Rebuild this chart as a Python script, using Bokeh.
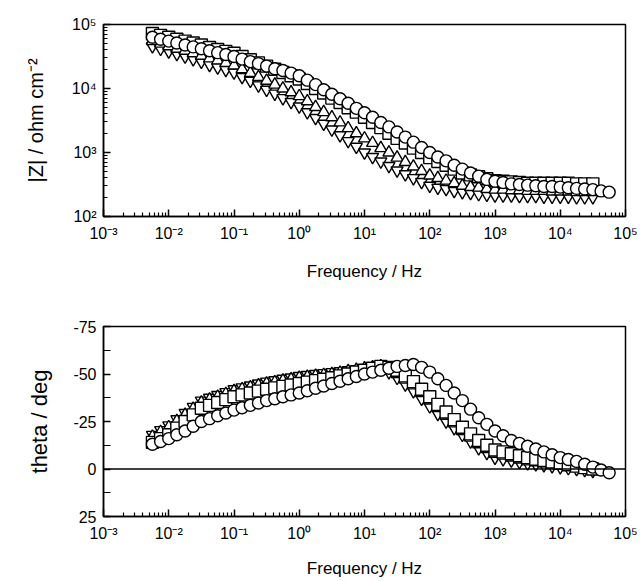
from bokeh.plotting import figure
from bokeh.layouts import column
from bokeh.models import Range1d, FixedTicker, Span
from bokeh.embed import file_html
from bokeh.resources import INLINE

# Frequency (Hz)
freq = [0.00562, 0.0075, 0.01, 0.0133, 0.0178, 0.0237, 0.0316, 0.0422, 0.0562, 0.075,
        0.1, 0.133, 0.178, 0.237, 0.316, 0.422, 0.562, 0.75,
        1, 1.33, 1.78, 2.37, 3.16, 4.22, 5.62, 7.5,
        10, 13.3, 17.8, 23.7, 31.6, 42.2, 56.2, 75,
        100, 133, 178, 237, 316, 422, 562, 750,
        1000, 1330, 1780, 2370, 3160, 4220, 5620, 7500,
        10000, 13300, 17800, 23700, 31600, 42200, 56200]

# |Z| (ohm cm^2)
z_circle = [63100, 58900, 55000, 51300, 47900, 44700, 41700, 38900, 36300, 33900,
            31600, 28800, 26300, 24500, 22400, 20400, 19100, 17400,
            15800, 13500, 11500, 9550, 8130, 6920, 5890, 4900,
            4170, 3550, 2950, 2510, 2090, 1740, 1450, 1200,
            1000, 851, 741, 631, 550, 479, 427, 380,
            355, 339, 324, 316, 309, 302, 295, 295,
            288, 282, 275, 269, 263, 251, 240]
z_square = [72400, 67600, 63100, 58900, 55000, 51300, 47900, 43700, 40700, 38000,
            35500, 31600, 28200, 25100, 22400, 20000, 17800, 15800,
            14100, 12000, 10000, 8510, 7080, 6030, 5010, 4270,
            3550, 2950, 2450, 2000, 1660, 1410, 1170, 1000,
            832, 724, 631, 550, 479, 447, 417, 389,
            363, 355, 347, 339, 331, 331, 331, 331,
            331, 331, 324, 324, 324]
z_tri_up = [55000, 50100, 45700, 41700, 38900, 35500, 32400, 29500, 27500, 25100,
            22900, 20000, 17400, 15100, 13200, 11500, 10000, 8710,
            7590, 6310, 5130, 4270, 3550, 2950, 2400, 2000,
            1660, 1410, 1170, 1000, 832, 708, 603, 513,
            437, 398, 363, 331, 302, 288, 282, 269,
            263, 263, 257, 257, 251, 251, 251, 245,
            245, 245, 240, 240, 240]
z_tri_down = [45700, 41700, 38000, 34700, 31600, 28800, 26300, 23400, 21400, 19500,
              17800, 15100, 13200, 11200, 9550, 8320, 7080, 6170,
              5250, 4270, 3470, 2820, 2290, 1860, 1510, 1230,
              1000, 851, 724, 617, 525, 457, 398, 347,
              302, 282, 269, 251, 240, 234, 224, 219,
              214, 214, 214, 209, 209, 209, 204, 204,
              204, 204, 200, 200, 200]

# Phase angle theta (deg)
th_circle = [-13, -14.5, -16, -18, -20, -22.5, -25, -26.5, -28, -29.5,
             -31, -32.2, -33.5, -34.7, -36, -37, -38, -39,
             -40, -41.2, -42.5, -43.7, -45, -46.2, -47.5, -48.7,
             -50, -51, -52, -53, -54, -54.5, -55, -53.5,
             -51, -47.5, -44, -40, -36, -31.5, -27, -23.5,
             -20, -17.5, -15, -13.5, -12, -10.5, -9, -7.5,
             -6, -5, -4, -2.5, -1, 0.5, 2]
th_square = [-14, -16, -18, -21.5, -25, -28.5, -32, -33.5, -35, -36.5,
             -38, -39, -40, -41, -42, -42.7, -43.5, -44.2,
             -45, -45.7, -46.5, -47.2, -48, -49, -50, -51,
             -52, -53, -54, -53.5, -52, -49, -46, -42,
             -38, -34, -30, -26, -22, -18.5, -15, -12.5,
             -10, -9, -8, -7, -6, -5.2, -4.5, -3.7,
             -3, -2.2, -1.5, -0.7, 0]
th_tri_up = [-17, -19.5, -22, -25.2, -28.5, -31.7, -35, -36.5, -38, -39.5,
             -41, -42, -43, -44, -45, -45.7, -46.5, -47.2,
             -48, -48.5, -49, -49.5, -50, -50.7, -51.5, -52.2,
             -53, -53.5, -54, -52.5, -50, -47, -44, -40,
             -36, -32, -28, -24, -20, -16.5, -13, -10.5,
             -8, -7, -6, -5, -4, -3.5, -3, -2.5,
             -2, -1.5, -1, -0.5, 0]
th_tri_down = [-18, -20.5, -23, -26.2, -29.5, -32.7, -36, -37.5, -39, -40.5,
               -42, -43, -44, -45, -46, -46.7, -47.5, -48.2,
               -49, -49.5, -50, -50.5, -51, -51.5, -52, -52.5,
               -53, -53.5, -53, -51, -48, -44.5, -41, -37,
               -33, -29, -25, -21.5, -18, -14.5, -11, -8.5,
               -6, -5.2, -4.5, -3.7, -3, -2.5, -2, -1.5,
               -1, -0.5, 0, 0.5, 1]

x_ticks = [1e-3, 1e-2, 1e-1, 1e0, 1e1, 1e2, 1e3, 1e4, 1e5]
x_labels = ["10\u207b\u00b3", "10\u207b\u00b2", "10\u207b\u00b9", "10\u2070", "10\u00b9",
            "10\u00b2", "10\u00b3", "10\u2074", "10\u2075"]
zy_ticks = [1e2, 1e3, 1e4, 1e5]
zy_labels = ["10\u00b2", "10\u00b3", "10\u2074", "10\u2075"]
th_ticks = [-75, -50, -25, 0, 25]
th_labels = ["-75", "-50", "-25", "0", "25"]

FONT = "Liberation Sans"


def log_minor(lo, hi):
    return [k * 10.0 ** e for e in range(lo, hi) for k in range(2, 10)]


def style(p):
    p.xgrid.visible = False
    p.ygrid.visible = False
    p.outline_line_color = "black"
    p.outline_line_width = 1.5
    p.background_fill_color = "white"
    p.border_fill_color = "white"
    for ax in (p.xaxis[0], p.yaxis[0]):
        ax.axis_line_color = "black"
        ax.axis_line_width = 1.5
        ax.major_tick_in = 7
        ax.major_tick_out = 0
        ax.minor_tick_in = 4
        ax.minor_tick_out = 0
        ax.major_tick_line_width = 1.5
        ax.minor_tick_line_width = 1.2
        ax.major_label_text_font = FONT
        ax.major_label_text_font_size = "16px"
        ax.major_label_text_color = "black"
        ax.axis_label_text_font = FONT
        ax.axis_label_text_font_style = "normal"
        ax.axis_label_text_color = "black"
    p.xaxis[0].axis_label_text_font_size = "17px"
    p.xaxis[0].ticker = FixedTicker(ticks=x_ticks, minor_ticks=log_minor(-3, 5))
    p.xaxis[0].major_label_overrides = dict(zip(x_ticks, x_labels))
    p.xaxis[0].axis_label = "Frequency / Hz"
    p.xaxis[0].major_label_standoff = 8
    p.yaxis[0].major_label_standoff = 7


def add_series(p, ys_list):
    markers = ["inverted_triangle", "triangle", "square", "circle"]
    for ys, mk in zip(ys_list, markers):
        n = len(ys)
        p.scatter(freq[:n], ys, marker=mk, size=12, fill_color="white",
                  line_color="black", line_width=1.4)


p1 = figure(width=640, height=308, x_axis_type="log", y_axis_type="log",
            x_range=Range1d(1e-3, 1e5), y_range=Range1d(1e2, 1e5),
            output_backend="svg", toolbar_location=None,
            min_border_left=103, min_border_right=15, min_border_top=24, min_border_bottom=92)
style(p1)
p1.xaxis[0].axis_label_standoff = 17
p1.yaxis[0].ticker = FixedTicker(ticks=zy_ticks, minor_ticks=log_minor(2, 5))
p1.yaxis[0].major_label_overrides = dict(zip(zy_ticks, zy_labels))
p1.yaxis[0].axis_label = "|Z| / ohm cm\u207b\u00b2"
p1.yaxis[0].axis_label_text_font_size = "20px"
p1.yaxis[0].axis_label_standoff = 22
add_series(p1, [z_tri_down, z_tri_up, z_square, z_circle])

p2 = figure(width=640, height=272, x_axis_type="log",
            x_range=Range1d(1e-3, 1e5), y_range=Range1d(25, -75),
            output_backend="svg", toolbar_location=None,
            min_border_left=103, min_border_right=15, min_border_top=18, min_border_bottom=63)
style(p2)
p2.xaxis[0].axis_label_standoff = 14
p2.yaxis[0].ticker = FixedTicker(ticks=th_ticks, minor_ticks=[-62.5, -37.5, -12.5, 12.5])
p2.yaxis[0].major_label_overrides = dict(zip(th_ticks, th_labels))
p2.yaxis[0].axis_label = "theta / deg"
p2.yaxis[0].axis_label_text_font_size = "22px"
p2.yaxis[0].axis_label_standoff = 18
p2.yaxis[0].minor_tick_in = 7
p2.add_layout(Span(location=0, dimension="width", line_color="black", line_width=1.5))
add_series(p2, [th_tri_down, th_tri_up, th_square, th_circle])

layout = column(p1, p2, spacing=0)
open("out.html", "w").write(file_html(layout, INLINE))
